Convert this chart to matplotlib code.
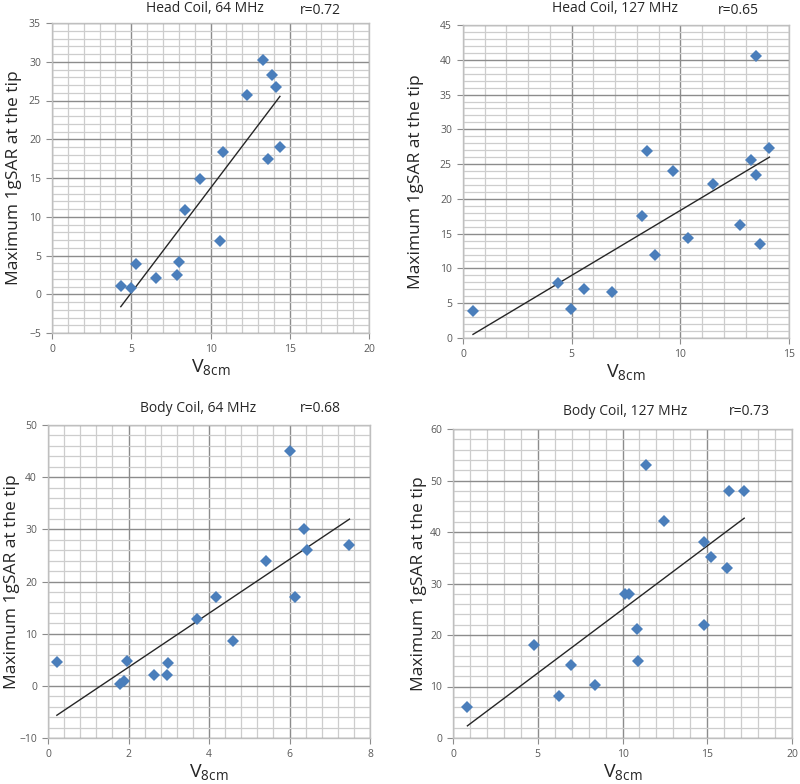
import numpy as np
import matplotlib
matplotlib.use('Agg')
import matplotlib.pyplot as plt
from matplotlib.ticker import MultipleLocator

plt.rcParams['font.family'] = ['Open Sans', 'DejaVu Sans']

# Head coil, 64 MHz
head64_x = [4.34, 4.97, 5.29, 6.53, 7.87, 8.0, 8.42, 9.34, 10.6, 10.81, 12.32, 13.3, 13.87, 14.12, 13.62, 14.38]
head64_y = [1.1, 0.8, 3.9, 2.1, 2.5, 4.1, 10.9, 14.9, 6.9, 18.4, 25.7, 30.2, 28.3, 26.75, 17.5, 19.05]

# Head coil, 127 MHz
head127_x = [0.46, 4.38, 4.95, 5.58, 6.85, 8.24, 8.45, 8.82, 9.65, 10.34, 11.5, 12.76, 13.26, 13.46, 13.49, 13.68, 14.1]
head127_y = [3.85, 7.9, 4.15, 7.0, 6.65, 17.6, 26.95, 11.9, 24.0, 14.35, 22.2, 16.3, 25.6, 23.4, 40.5, 13.45, 27.3]

# Body coil, 64 MHz
body64_x = [0.22, 1.8, 1.89, 1.97, 2.63, 2.96, 2.99, 3.69, 4.17, 4.6, 5.41, 6.01, 6.13, 6.37, 6.44, 7.49]
body64_y = [4.6, 0.4, 0.85, 4.8, 2.0, 2.0, 4.3, 12.9, 17.0, 8.6, 24.0, 45.1, 17.0, 30.0, 26.0, 27.0]

# Body coil, 127 MHz
body127_x = [0.85, 4.76, 6.24, 6.99, 8.35, 10.13, 10.38, 10.86, 10.92, 11.41, 12.44, 14.81, 14.81, 15.2, 16.15, 16.29, 17.18]
body127_y = [6.1, 18.0, 8.1, 14.1, 10.2, 28.0, 28.0, 21.2, 15.0, 53.1, 42.1, 38.1, 22.0, 35.1, 33.0, 48.0, 48.0]

titles = ['Head Coil, 64 MHz', 'Head Coil, 127 MHz', 'Body Coil, 64 MHz', 'Body Coil, 127 MHz']
r_labels = ['r=0.72', 'r=0.65', 'r=0.68', 'r=0.73']

W, H = 800, 784
fig = plt.figure(figsize=(W / 100, H / 100), dpi=100)


def px_axes(l, t, r, b):
    return fig.add_axes([l / W, 1 - b / H, (r - l) / W, (b - t) / H])


def panel(ax, x, y, xlim, ylim, xmaj, xmin, ymaj, ymin, ylab_px):
    ax.set_xlim(*xlim)
    ax.set_ylim(*ylim)
    ax.xaxis.set_major_locator(MultipleLocator(xmaj))
    ax.xaxis.set_minor_locator(MultipleLocator(xmin))
    ax.yaxis.set_major_locator(MultipleLocator(ymaj))
    ax.yaxis.set_minor_locator(MultipleLocator(ymin))
    ax.grid(which='major', color='#8c8c8c', lw=1.0)
    ax.grid(which='minor', color='#cdcdcd', lw=0.9)
    ax.set_axisbelow(True)
    for s in ax.spines.values():
        s.set_color('#bfbfbf')
        s.set_linewidth(1.0)
    ax.tick_params(which='major', length=4, color='#8c8c8c', labelsize=7.5,
                   labelcolor='#595959', pad=4)
    ax.tick_params(which='minor', length=0)
    # linear trendline
    k, c = np.polyfit(x, y, 1)
    xs = np.array([min(x), max(x)])
    ax.plot(xs, k * xs + c, color='#262626', lw=1.0, zorder=2)
    ax.plot(x, y, 'D', color='#4a7ebb', markersize=6.5, markeredgewidth=0, zorder=3)
    ax.set_ylabel('Maximum 1gSAR at the tip', fontsize=12.5, color='#262626')
    l = ax.get_position().x0 * W
    w = ax.get_position().width * W
    # ylab_px: right edge of the rotated label in pixels
    ax.yaxis.set_label_coords((ylab_px - l) / w, 0.5)
    ax.set_xlabel(r'V$_{\mathregular{8cm}}$', fontsize=14, color='#262626', labelpad=2)


ax1 = px_axes(52, 23, 369, 333)
panel(ax1, head64_x, head64_y, (0, 20), (-5, 35), 5, 1, 5, 1, 22)
ax2 = px_axes(463, 25, 789, 338)
panel(ax2, head127_x, head127_y, (0, 15), (0, 45), 5, 1, 5, 1, 424)
ax3 = px_axes(48, 425, 370, 738)
panel(ax3, body64_x, body64_y, (0, 8), (-10, 50), 2, 0.4, 10, 2, 20)
ax4 = px_axes(453, 429, 792, 738)
panel(ax4, body127_x, body127_y, (0, 20), (0, 60), 5, 1, 10, 2, 427)

title_pos = [(205, 9), (615, 9), (198, 409), (625, 411)]
r_pos = [(320, 11), (738, 11), (320, 409), (749, 411)]
for t, (tx, ty), r, (rx, ry) in zip(titles, title_pos, r_labels, r_pos):
    fig.text(tx / W, 1 - ty / H, t, ha='center', va='center', fontsize=10, color='#262626')
    fig.text(rx / W, 1 - ry / H, r, ha='center', va='center', fontsize=10, color='#262626')

fig.savefig('out.png', dpi=100, facecolor='white')
